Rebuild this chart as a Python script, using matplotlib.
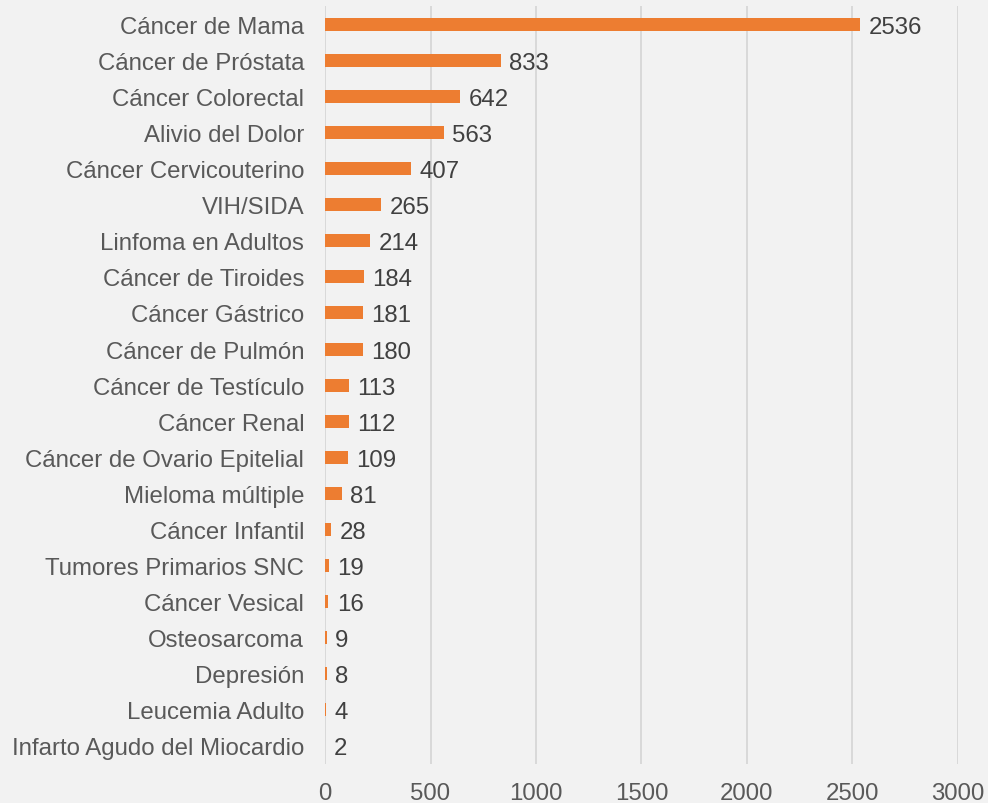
import matplotlib as mpl
import matplotlib.pyplot as plt
import numpy as np

mpl.rcParams['font.family'] = ['Liberation Sans', 'DejaVu Sans']

categories = ["Cáncer de Mama", "Cáncer de Próstata", "Cáncer Colorectal", "Alivio del Dolor",
              "Cáncer Cervicouterino", "VIH/SIDA", "Linfoma en Adultos", "Cáncer de Tiroides",
              "Cáncer Gástrico", "Cáncer de Pulmón", "Cáncer de Testículo", "Cáncer Renal",
              "Cáncer de Ovario Epitelial", "Mieloma múltiple", "Cáncer Infantil",
              "Tumores Primarios SNC", "Cáncer Vesical", "Osteosarcoma", "Depresión",
              "Leucemia Adulto", "Infarto Agudo del Miocardio"]
values = [2536, 833, 642, 563, 407, 265, 214, 184, 181, 180, 113, 112, 109, 81, 28, 19, 16, 9, 8, 4, 2]
xticks = [0, 500, 1000, 1500, 2000, 2500, 3000]

bg = '#f2f2f2'
fs = 17.3
fig = plt.figure(figsize=(9.88, 8.04), dpi=100)
fig.patch.set_facecolor(bg)
ax = fig.add_axes([0.329, 0.0485, 0.6405, 0.9425])
ax.set_facecolor(bg)

y = np.arange(len(categories))
ax.barh(y, values, height=0.36, color='#ed7d31', zorder=3)
for yi, v in zip(y, values):
    ax.annotate(str(v), (v, yi), xytext=(6, 0), textcoords='offset points',
                va='center_baseline', ha='left', fontsize=fs, color='#404040')

ax.set_ylim(len(categories) - 0.5, -0.5)
ax.set_xlim(0, 3000)
ax.set_xticks(xticks)
ax.set_yticks(y)
ax.set_yticklabels(categories, va='center_baseline')
ax.tick_params(axis='both', length=0, labelsize=fs, labelcolor='#595959')
ax.tick_params(axis='y', pad=15)
ax.tick_params(axis='x', pad=13)
ax.grid(axis='x', color='#d9d9d9', linewidth=1.4, zorder=0)
for spine in ax.spines.values():
    spine.set_visible(False)

plt.savefig("out.png", dpi=100, facecolor=bg)
